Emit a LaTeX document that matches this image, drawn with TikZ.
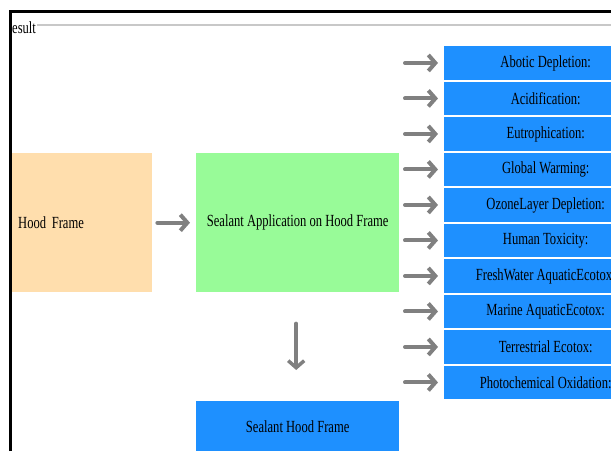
\documentclass[tikz,border=0pt]{standalone}
\usepackage{fontspec}
\setmainfont{Liberation Serif}[FakeStretch=0.74]
\usetikzlibrary{arrows.meta}

\definecolor{peach}{HTML}{FFDEAD}
\definecolor{mint}{HTML}{98FB98}
\definecolor{skyblue}{HTML}{1E90FF}
\definecolor{arrowgray}{HTML}{808080}
\definecolor{legendgray}{HTML}{C8C8C8}

\tikzset{
  box/.style={rectangle, inner sep=0pt, anchor=north west, align=center,
    font=\fontsize{17}{20}\selectfont},
  arr/.style={draw=arrowgray, line width=4pt, line cap=round,
    -{Straight Barb[length=7pt,width=16pt]}},
}

\begin{document}
\begin{tikzpicture}[x=1pt,y=-1pt]
  \clip (0,0) rectangle (611,451);

  % Result panel frame
  \draw[line width=3pt] (10.5,451) -- (10.5,11.5) -- (611,11.5);
  \draw[legendgray, line width=2pt] (37,25) -- (611,25);
  \node[font=\fontsize{17}{20}\selectfont, anchor=base west, inner sep=0pt] (legend) at (12,33) {esult};

  % Process chain
  \node[box, fill=peach, minimum height=139pt, text width=128pt, inner xsep=6pt, align=left] (hood) at (12,153) {Hood Frame};
  \node[box, fill=mint, minimum width=203pt, minimum height=139pt] (apply) at (196,153) {Sealant Application on Hood Frame};
  \node[box, fill=skyblue, minimum width=203pt, minimum height=50pt] (done) at (196,401) {Sealant Hood Frame};

  \draw[arr, shorten <=5pt, shorten >=6pt] (hood.east) -- (apply.west);
  \draw[arr, line width=3.5pt, shorten <=31pt, shorten >=31pt] ([xshift=-1.5pt]apply.south) -- ([xshift=-1.5pt]done.north);

  % Impact categories
  \foreach \cat [count=\i] in {Abotic Depletion:, Acidification:, Eutrophication:, Global Warming:,
      OzoneLayer Depletion:, Human Toxicity:, FreshWater AquaticEcotox:, Marine AquaticEcotox:,
      Terrestrial Ecotox:, Photochemical Oxidation:}{
    \node[box, fill=skyblue, minimum width=203pt, minimum height=33.5pt] (imp\i) at (444,{46+35.5*(\i-1)}) {\cat};
    \draw[arr, shorten >=6pt] ([xshift=-39pt]imp\i.west) -- (imp\i.west);
  }
\end{tikzpicture}
\end{document}
